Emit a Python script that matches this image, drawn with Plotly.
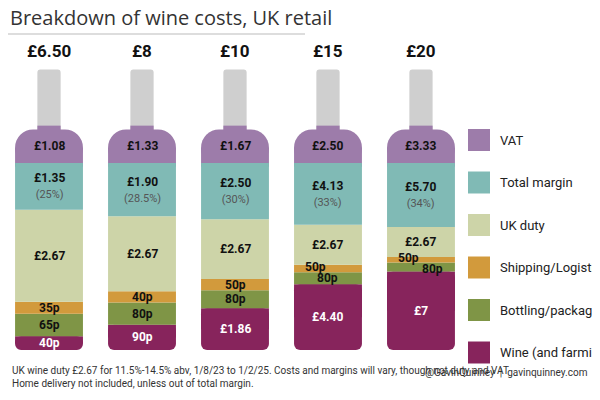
import plotly.graph_objects as go
import numpy as np

# retail price of each bottle, and what it is made of (GBP)
prices = [6.50, 8, 10, 15, 20]
vat = [1.08, 1.33, 1.67, 2.50, 3.33]
margin = [1.35, 1.90, 2.50, 4.13, 5.70]
margin_pct = ["25%", "28.5%", "30%", "33%", "34%"]
duty = [2.67, 2.67, 2.67, 2.67, 2.67]
shipping = [0.35, 0.40, 0.50, 0.50, 0.50]
bottling = [0.65, 0.80, 0.80, 0.80, 0.80]
wine = [0.40, 0.90, 1.86, 4.40, 7.00]

legend_names = ["VAT", "Total margin", "UK duty", "Shipping/Logistics",
                "Bottling/packaging", "Wine (and farming)"]
colors = ["#9d7caa", "#80bab5", "#cdd4a8", "#d29a3c", "#7f9546", "#87245c"]
NECK = "#cfcfcf"
FONT = "Liberation Sans Narrow, Roboto, sans-serif"

# page has an 8px body margin, so the figure is a bit smaller than the window
W, H, OFF = 592, 392, 8


def px(xp, yp):
    return (xp - OFF) / W, 1 - (yp - OFF) / H


def fmt(v):
    if v < 1:
        return f"{round(v * 100)}p"
    if float(v).is_integer():
        return f"£{int(v)}"
    return f"£{v:.2f}"


x = np.arange(len(prices))
body = np.array(prices) - np.array(vat)
# body of each bottle is scaled to the same height (1.0)
stack = [np.array(wine), np.array(bottling), np.array(shipping),
         np.array(duty), np.array(margin)]
fracs = [s / body for s in stack]
bases = np.cumsum([np.zeros(len(x))] + fracs[:-1], axis=0)
seg_colors = colors[::-1][:5]
n = len(x)
NOLINE = dict(width=0)

SHOULDER = 0.2
fig = go.Figure()


def bar(y, base, width, color, radius=0):
    fig.add_bar(x=x, y=y, base=base, width=width, hoverinfo="skip",
                marker=dict(color=color, cornerradius=radius, line=NOLINE))


# neck, then the purple shoulder (VAT)
bar([0.36] * n, [1.14] * n, 0.25, NECK, 3)
bar([SHOULDER + 0.02] * n, [0.98] * n, 0.25, colors[0])
bar([SHOULDER] * n, [0.98] * n, 0.73, colors[0], 22)
bar([0.1] * n, [0.98] * n, 0.73, colors[0])

for i, (f, b) in enumerate(zip(fracs, bases)):
    if i == 0:
        bar(f, b, 0.73, seg_colors[i], 6)
        bar(f / 2, f / 2, 0.73, seg_colors[i])
    else:
        bar(f, b, 0.73, seg_colors[i])

ann = []
for j in x:
    ann.append(dict(x=j, y=1.6, text=f"<b>{fmt(prices[j])}</b>", showarrow=False,
                    font=dict(size=17, color="#111", family=FONT)))
    ann.append(dict(x=j, y=1.0 + SHOULDER / 2 - 0.01, text=f"<b>{fmt(vat[j])}</b>",
                    showarrow=False, font=dict(size=12, color="#111", family=FONT)))
    for i, (f, b) in enumerate(zip(fracs, bases)):
        vals = [wine, bottling, shipping, duty, margin][i]
        yc = b[j] + f[j] / 2
        xshift = 0
        if f[j] * 187 < 10:
            xshift = -12 if i == 2 else 12
            yc += 0.01 if i == 2 else -0.01
        txt = f"<b>{fmt(vals[j])}</b>"
        if i == 4:
            txt += f"<br><span style='color:#555;font-size:11px'>({margin_pct[j]})</span>"
        ann.append(dict(x=j, y=yc, text=txt, showarrow=False, xshift=xshift,
                        font=dict(size=12, color="white" if i == 0 else "#111", family=FONT)))

# title rule and legend swatches
x0, y0 = px(0, 34)
x1, _ = px(305, 34)
shapes = [dict(type="line", xref="paper", yref="paper", x0=0, x1=x1,
               y0=y0, y1=y0, line=dict(color="#bbb", width=1))]
for k, (name, c) in enumerate(zip(legend_names, colors)):
    yc = 140 + k * 42.5
    sx0, sy0 = px(468, yc + 11)
    sx1, sy1 = px(490, yc - 11)
    shapes.append(dict(type="rect", xref="paper", yref="paper",
                       x0=sx0, x1=sx1, y0=sy0, y1=sy1, fillcolor=c, line=NOLINE))
    lx, ly = px(498, yc)
    ann.append(dict(xref="paper", yref="paper", x=lx, y=ly, text=name, yanchor="middle",
                    xanchor="left", showarrow=False, font=dict(size=13, color="#222", family=FONT)))

tx, ty = px(5, 18)
ann.append(dict(xref="paper", yref="paper", x=max(tx, 0), y=ty, xanchor="left", yanchor="middle",
                text="Breakdown of wine costs, UK retail", showarrow=False,
                font=dict(size=20, color="#333", family="Open Sans")))
fx, fy = px(10, 377)
ann.append(dict(xref="paper", yref="paper", x=max(fx, 0), y=fy, xanchor="left", yanchor="middle",
                align="left",
                text="UK wine duty £2.67 for 11.5%-14.5% abv, 1/8/23 to 1/2/25. Costs and margins will vary, though not duty and VAT"
                     "<br>Home delivery not included, unless out of total margin.",
                showarrow=False, font=dict(size=10, color="#333", family=FONT)))
cx, cy = px(590, 372)
ann.append(dict(xref="paper", yref="paper", x=cx, y=cy, xanchor="right", yanchor="middle",
                text="@GavinQuinney  |  gavinquinney.com", showarrow=False,
                font=dict(size=10, color="#333", family=FONT)))

fig.update_layout(width=W, height=H, margin=dict(l=0, r=0, t=0, b=0),
                  barmode="overlay", showlegend=False, plot_bgcolor="white",
                  paper_bgcolor="white", annotations=ann, shapes=shapes,
                  xaxis=dict(range=[-0.441, 5.925], visible=False),
                  yaxis=dict(range=[-0.267, 1.829], visible=False))
fig.write_html("out.html")
